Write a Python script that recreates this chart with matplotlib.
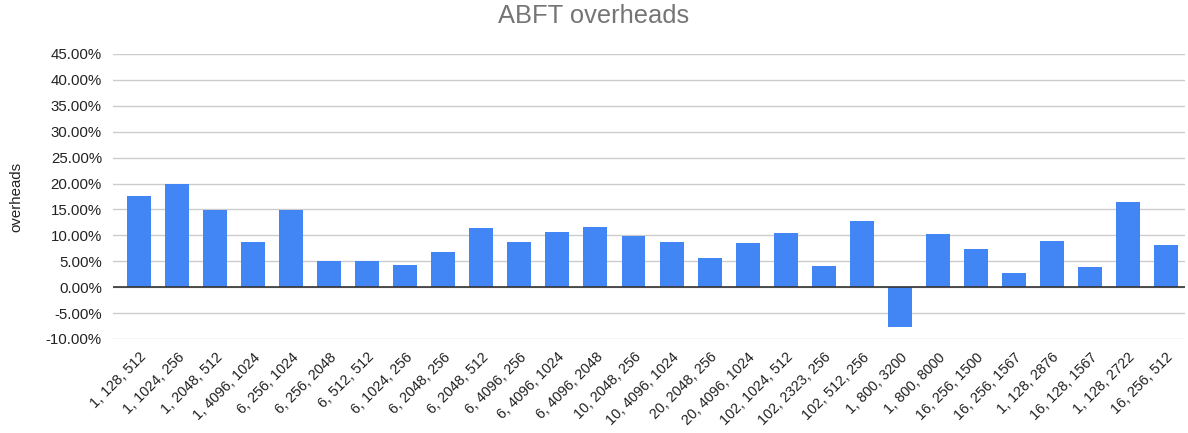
import numpy as np
import matplotlib.pyplot as plt
from matplotlib.ticker import FuncFormatter

plt.rcParams['font.family'] = ['Liberation Sans', 'DejaVu Sans']

configs = ['1, 128, 512', '1, 1024, 256', '1, 2048, 512', '1, 4096, 1024',
           '6, 256, 1024', '6, 256, 2048', '6, 512, 512', '6, 1024, 256',
           '6, 2048, 256', '6, 2048, 512', '6, 4096, 256', '6, 4096, 1024',
           '6, 4096, 2048', '10, 2048, 256', '10, 4096, 1024', '20, 2048, 256',
           '20, 4096, 1024', '102, 1024, 512', '102, 2323, 256', '102, 512, 256',
           '1, 800, 3200', '1, 800, 8000', '16, 256, 1500', '16, 256, 1567',
           '1, 128, 2876', '16, 128, 1567', '1, 128, 2722', '16, 256, 512']
overheads = [17.6, 19.9, 14.9, 8.7, 14.9, 5.0, 5.0, 4.3, 6.7, 11.5, 8.7, 10.7,
             11.7, 9.9, 8.7, 5.7, 8.5, 10.5, 4.0, 12.7, -7.7, 10.2, 7.3, 2.8,
             9.0, 3.8, 16.5, 8.2]
yticks = np.arange(-10, 50, 5)

W, H = 1188, 433
fig = plt.figure(figsize=(W / 100, H / 100), dpi=100)
ax = fig.add_axes([113 / W, 1 - 339 / H, (1185 - 113) / W, (339 - 54) / H])

x = np.arange(len(configs))
ax.bar(x, overheads, width=0.63, color='#4285F4', zorder=3)
ax.axhline(0, color='#333333', lw=1.2, zorder=4)

ax.set_ylim(-10, 45)
ax.set_xlim(-0.5 - 7 / 38, len(configs) - 0.5)
ax.set_yticks(yticks)
ax.yaxis.set_major_formatter(FuncFormatter(lambda v, p: '%.2f%%' % v))
ax.grid(axis='y', color='#cccccc', lw=1, zorder=0)
for s in ax.spines.values():
    s.set_visible(False)
ax.tick_params(axis='both', length=0, colors='#222222')
ax.tick_params(axis='y', pad=8, labelsize=10.8)

ax.set_xticks(x)
ax.set_xticklabels(configs, rotation=45, ha='right', rotation_mode='anchor')
ax.tick_params(axis='x', pad=8, labelsize=10.4)

ax.set_ylabel('overheads', fontsize=10.8, color='#222222')
ax.yaxis.set_label_coords(-0.084, 0.5)
fig.text(0.5, 1 - 16 / H, 'ABFT overheads', ha='center', va='center',
         fontsize=18.4, color='#757575')

fig.savefig('out.png', dpi=100)
